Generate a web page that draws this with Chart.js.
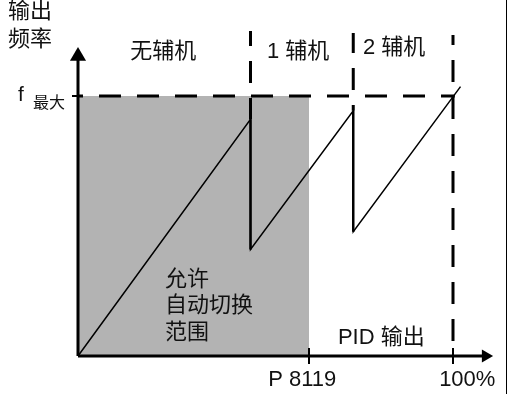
<!DOCTYPE html>
<html>
<head>
<meta charset="utf-8">
<script src="https://cdn.jsdelivr.net/npm/chart.js@4/dist/chart.umd.min.js"></script>
<style>
  body { margin: 0; background: #fff; }
  #wrap { width: 509px; height: 394px; position: relative; }
</style>
</head>
<body>
<div id="wrap"><canvas id="chart" width="509" height="394"></canvas></div>
<script>
// PID output (%) where an auxiliary motor is switched on / off
const regimes = ['无辅机', '1 辅机', '2 辅机'];
const switchX = [46, 73.4];
const endX = 102;
// output frequency (% of f max) just before and just after each switch
const peakY = [91, 94.3, 103.6];
const dropY = [41, 47.8];
const fMax = 100;
const pidMax = 100;
const p8119 = 61.6;
const xTickLabels = ['P 8119', '100%'];
// upper ends of the dashed dividers
const dividerTop = [125, 124.2, 123.5];

const saw = [{ x: 0, y: 0 }];
switchX.forEach((sx, i) => {
    saw.push({ x: sx, y: peakY[i] });
    saw.push({ x: sx, y: dropY[i] });
});
saw.push({ x: endX, y: peakY[2] });

function seg(points, opts) {
    return Object.assign({
        data: points,
        borderColor: '#000',
        borderWidth: 2,
        pointRadius: 0,
        fill: false,
        clip: false,
        order: 1
    }, opts);
}

const datasets = [];
// automatic changeover area
datasets.push(seg([{ x: 0, y: fMax }, { x: p8119, y: fMax }], {
    borderWidth: 0, fill: 'origin', backgroundColor: '#b3b3b3', order: 10
}));
// f max line
datasets.push(seg([{ x: 0, y: fMax }, { x: pidMax + 0.5, y: fMax }], {
    borderWidth: 3, borderDash: [22, 16], borderDashOffset: 17
}));
// dividers
datasets.push(seg([{ x: switchX[0], y: dividerTop[0] }, { x: switchX[0], y: peakY[0] }], {
    borderWidth: 3, borderDash: [22, 15], borderDashOffset: 7
}));
datasets.push(seg([{ x: switchX[1], y: dividerTop[1] }, { x: switchX[1], y: peakY[1] }], {
    borderWidth: 3, borderDash: [22, 15], borderDashOffset: 2
}));
datasets.push(seg([{ x: pidMax, y: dividerTop[2] }, { x: pidMax, y: 0 }], {
    borderWidth: 3, borderDash: [22, 15], borderDashOffset: 12
}));
// output frequency
datasets.push(seg(saw, { borderWidth: 1.5 }));
switchX.forEach((sx, i) => {
    datasets.push(seg([{ x: sx, y: peakY[i] }, { x: sx, y: dropY[i] }], { borderWidth: 2.5 }));
});
// axes with arrow heads
datasets.push(seg([{ x: 0, y: 0 }, { x: 0, y: 115.3 }], {
    borderWidth: 3, pointRadius: [0, 9.3], pointStyle: 'triangle', pointRotation: 0,
    pointBackgroundColor: '#000', pointBorderWidth: 0
}));
datasets.push(seg([{ x: 0, y: 0 }, { x: 108.7, y: 0 }], {
    borderWidth: 3, pointRadius: [0, 7.5], pointStyle: 'triangle', pointRotation: 90,
    pointBackgroundColor: '#000', pointBorderWidth: 0
}));
// ticks
[p8119, pidMax].forEach((tx) => {
    datasets.push(seg([{ x: tx, y: 3.1 }, { x: tx, y: -3.1 }], { borderWidth: 2 }));
});
datasets.push(seg([{ x: -1.6, y: fMax }, { x: 1.3, y: fMax }], { borderWidth: 2 }));

const LAT = '"Liberation Sans", "Noto Sans CJK SC", sans-serif';
const labels = [
    { t: '输出', x: -18.7, y: 132.5, size: 22 },
    { t: '频率', x: -18.7, y: 121.5, size: 22 },
    { t: 'f', x: -16, y: 100.4, size: 21 },
    { t: '最大', x: -12, y: 97.1, size: 16 },
    { t: regimes[0], x: 13.9, y: 116.9, size: 22 },
    { t: regimes[1], x: 50.4, y: 116.9, size: 22 },
    { t: regimes[2], x: 76, y: 118.6, size: 22 },
    { t: '允许', x: 23.2, y: 29.2, size: 22 },
    { t: '自动切换', x: 23.2, y: 19.2, size: 22 },
    { t: '范围', x: 23.2, y: 8.85, size: 22 },
    { t: 'PID 输出', x: 69.3, y: 6.9, size: 22 },
    { t: xTickLabels[0], x: 50.7, y: -9.2, size: 22 },
    { t: xTickLabels[1], x: 96.3, y: -9.2, size: 22 }
];

const textPlugin = {
    id: 'texts',
    afterDraw(chart) {
        const ctx = chart.ctx;
        const xs = chart.scales.x, ys = chart.scales.y;
        ctx.save();
        ctx.fillStyle = '#111';
        ctx.textAlign = 'left';
        ctx.textBaseline = 'middle';
        labels.forEach((l) => {
            ctx.font = l.size + 'px ' + LAT;
            ctx.fillText(l.t, xs.getPixelForValue(l.x), ys.getPixelForValue(l.y));
        });
        // frame edge on the right
        ctx.strokeStyle = '#000';
        ctx.lineWidth = 1;
        ctx.beginPath();
        ctx.moveTo(506.5, 0);
        ctx.lineTo(506.5, chart.height);
        ctx.stroke();
        ctx.restore();
    }
};

new Chart(document.getElementById('chart').getContext('2d'), {
    type: 'line',
    data: { datasets: datasets },
    options: {
        responsive: false,
        animation: false,
        parsing: true,
        layout: { padding: { left: 78, right: 11, top: 18, bottom: 38 } },
        elements: { line: { tension: 0 } },
        plugins: { legend: { display: false }, tooltip: { enabled: false } },
        scales: {
            x: { type: 'linear', min: 0, max: 112, display: false },
            y: { type: 'linear', min: 0, max: 130, display: false }
        }
    },
    plugins: [textPlugin]
});
</script>
</body>
</html>
